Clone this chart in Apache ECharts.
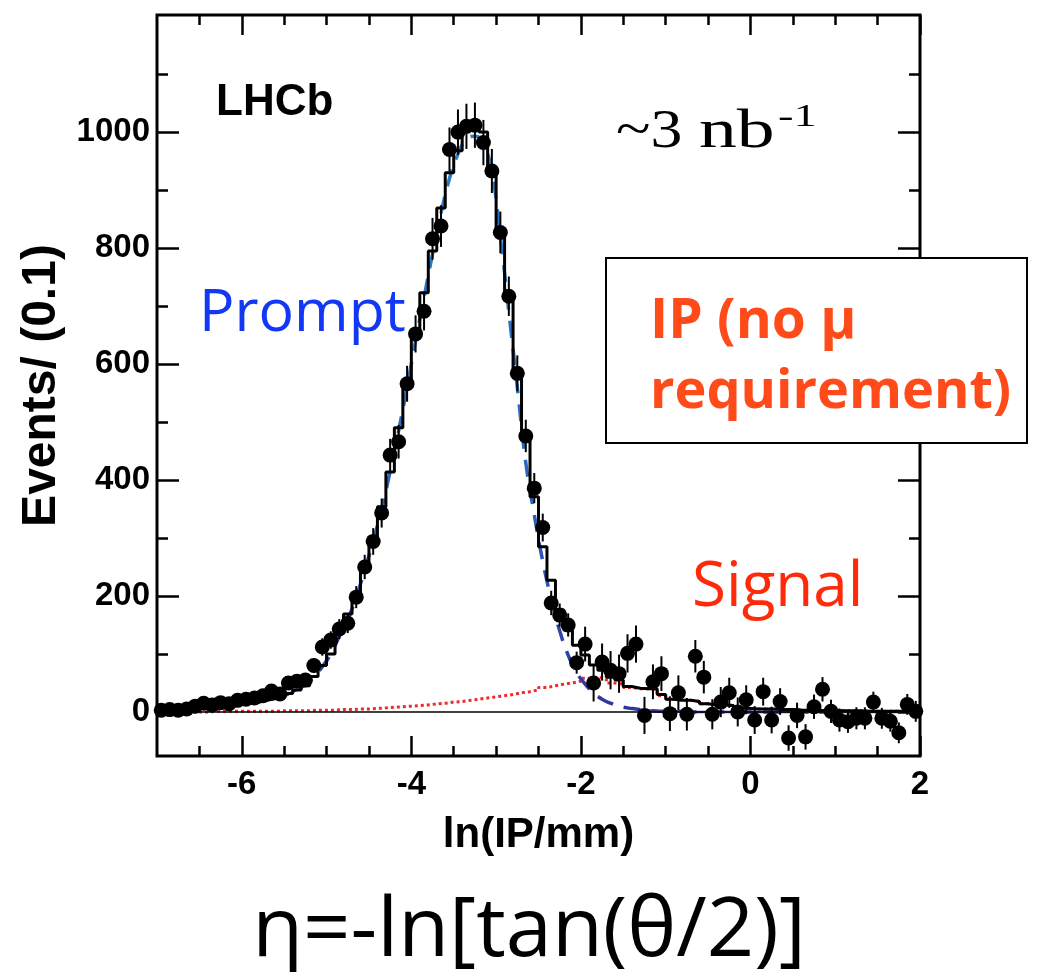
<!DOCTYPE html>
<html>
<head>
<meta charset="utf-8">
<script src="https://cdn.jsdelivr.net/npm/echarts@6/dist/echarts.min.js"></script>
<style>
html,body{margin:0;padding:0;background:#fff;}
#chart{width:1050px;height:972px;}
</style>
</head>
<body>
<div id="chart"></div>
<script>
// ---- data ----
const binWidth = 0.1;
const binCenters = [
 -6.95,-6.85,-6.75,-6.65,-6.55,-6.45,-6.35,-6.25,-6.15,-6.05,
 -5.95,-5.85,-5.75,-5.65,-5.55,-5.45,-5.35,-5.25,-5.15,-5.05,
 -4.95,-4.85,-4.75,-4.65,-4.55,-4.45,-4.35,-4.25,-4.15,-4.05,
 -3.95,-3.85,-3.75,-3.65,-3.55,-3.45,-3.35,-3.25,-3.15,-3.05,
 -2.95,-2.85,-2.75,-2.65,-2.55,-2.45,-2.35,-2.25,-2.15,-2.05,
 -1.95,-1.85,-1.75,-1.65,-1.55,-1.45,-1.35,-1.25,-1.15,-1.05,
 -0.95,-0.85,-0.75,-0.65,-0.55,-0.45,-0.35,-0.25,-0.15,-0.05,
 0.05,0.15,0.25,0.35,0.45,0.55,0.65,0.75,0.85,0.95,
 1.05,1.15,1.25,1.35,1.45,1.55,1.65,1.75,1.85,1.95
];
const dataCounts = [
 3,4,3,5,10,15,12,16,14,20,
 22,24,28,36,31,50,53,55,80,112,
 124,143,153,198,250,294,343,443,466,566,
 652,691,816,838,970,1000,1010,1012,982,933,
 827,717,584,476,386,318,188,167,150,85,
 117,50,86,72,66,101,117,-6,52,66,
 -3,33,-4,96,60,-4,17,33,0,21,
 -14,35,-14,18,-45,-6,-43,9,39,1,
 -14,-17,-11,-11,17,-11,-16,-36,13,1
];
const dataErrors = [
 3,3,3,4,5,5,5,6,6,7,
 7,8,8,9,9,10,11,11,13,15,
 15,17,17,19,21,23,25,28,29,31,
 32,33,36,36,38,39,39,39,39,38,
 36,34,31,28,26,24,21,20,20,19,
 30,32,32,33,33,33,32,32,30,30,
 30,30,28,28,28,26,26,26,25,25,
 24,24,23,23,22,22,22,21,21,20,
 20,19,19,19,18,18,18,18,18,18
];
const totalFit = [
 2,3,4,5,6,7,8,10,11,13,
 15,17,20,23,27,32,38,45,61,80,
 100,140,169,204,256,302,354,414,490,559,
 645,723,795,869,930,968,1005,1012,1000,940,
 829,722,590,475,371,285,227,176,141,115,
 98,81,72,60,55,44,41,40,40,30,
 22,20,20,18,14,12,12,11,7,6,
 5,5,5,4,4,3,3,3,2,2,
 2,2,2,1,1,1,1,1,1,1
];
const promptFit = [
 3,3,4,5,6,7,7,9,10,12,
 14,16,19,22,26,31,38,47,60,78,
 100,130,160,198,245,295,350,415,485,560,
 640,715,790,860,920,962,988,993,980,930,
 820,690,560,430,340,260,195,140,98,68,
 48,33,22,15,10,7,5,3,2,1,
 1,1,0,0,0,0,0,0,0,0,
 0,0,0,0,0,0,0,0,0,0,
 0,0,0,0,0,0,0,0,0,0
];
const signalFit = [
 0,0,0,0,0,0,1,1,1,1,
 1,1,1,1,2,2,2,2,3,3,
 3,4,4,5,5,6,7,8,9,10,
 11,12,14,15,17,18,20,22,24,26,
 28,30,33,35,38,42,45,48,50,53,
 58,60,57,50,48,42,40,40,38,28,
 22,20,20,18,14,12,12,11,7,6,
 5,5,5,4,4,3,3,3,2,2,
 2,2,2,1,1,1,1,1,1,1
];
const xMajorTicks = [-6,-4,-2,0,2];
const xMinorTicks = [-6.5,-5.5,-5,-4.5,-3.5,-3,-2.5,-1.5,-1,-0.5,0.5,1,1.5];
const yMajorTicks = [0,200,400,600,800,1000];
const yMinorTicks = [100,300,500,700,900,1100];

// ---- build ----
function stepData(vals){
  const out = binCenters.map((c,i)=>[c - binWidth/2, vals[i]]);
  out.push([binCenters[binCenters.length-1] + binWidth/2, vals[vals.length-1]]);
  return out;
}
const pointData = binCenters.map((c,i)=>[c, dataCounts[i], dataErrors[i]]);
const promptData = binCenters.map((c,i)=>[c, promptFit[i]]);
const promptLeft = promptData.filter(d=>d[0] <= -5.3);
const promptRight = promptData.filter(d=>d[0] >= -1.3);

const chart = echarts.init(document.getElementById('chart'), null, {renderer:'canvas'});
const XMIN=-7, XMAX=2, YMIN=-76, YMAX=1202;
const tickLine = {color:'#000', width:2.5};
const labelFont = {fontSize:33, fontWeight:'bold', color:'#000', fontFamily:'Liberation Sans'};
function xAx(pos, custom, len, labels){
  return {type:'value', min:XMIN, max:XMAX, position:pos,
    axisLine:{show:false, onZero:false}, splitLine:{show:false},
    axisTick:{show:true, inside:true, length:len, customValues:custom, lineStyle:tickLine},
    axisLabel: labels ? Object.assign({show:true, customValues:xMajorTicks, margin:12, formatter:v=>String(v)}, labelFont) : {show:false}
  };
}
function yAx(pos, custom, len, labels){
  return {type:'value', min:YMIN, max:YMAX, position:pos,
    axisLine:{show:false, onZero:false}, splitLine:{show:false},
    axisTick:{show:true, inside:true, length:len, customValues:custom, lineStyle:tickLine},
    axisLabel: labels ? Object.assign({show:true, customValues:yMajorTicks, margin:7, formatter:v=>String(v)}, labelFont) : {show:false}
  };
}
const xAxes = [xAx('bottom', xMajorTicks, 20, true), xAx('bottom', xMinorTicks, 10, false), xAx('top', xMajorTicks, 20, false), xAx('top', xMinorTicks, 10, false)];
xAxes[0].name = 'ln(IP/mm)';
xAxes[0].nameLocation = 'middle';
xAxes[0].nameGap = 58;
xAxes[0].nameTextStyle = {fontSize:42, fontWeight:'bold', color:'#000', fontFamily:'Liberation Sans'};
const yAxes = [yAx('left', yMajorTicks, 22, true), yAx('left', yMinorTicks, 11, false), yAx('right', yMajorTicks, 22, false), yAx('right', yMinorTicks, 11, false)];
yAxes[0].name = 'Events/ (0.1)';
yAxes[0].nameLocation = 'middle';
yAxes[0].nameGap = 80;
yAxes[0].nameTextStyle = {fontSize:48, fontWeight:'bold', color:'#000', fontFamily:'Liberation Sans'};

const promptGrad = new echarts.graphic.LinearGradient(0,0,0,1,[
  {offset:0, color:'#2a80c8'},{offset:0.55,color:'#2a6cc0'},{offset:1, color:'#30359a'}]);

const option = {
  animation:false,
  backgroundColor:'#fff',
  grid:{left:157, top:15, width:763, height:741, show:true, borderColor:'#000', borderWidth:3, backgroundColor:'rgba(0,0,0,0)'},
  xAxis: xAxes,
  yAxis: yAxes,
  series:[
    {type:'line', name:'signal', data:stepData(signalFit), step:'end', showSymbol:false, symbol:'none',
     lineStyle:{color:'#ee2b2b', width:3, type:[3,3]}, z:2},
    {type:'line', name:'prompt', data:promptData, smooth:true, showSymbol:false, symbol:'none',
     lineStyle:{color:promptGrad, width:3.5, type:[17,11]}, z:3},
    {type:'line', name:'promptL', data:promptLeft, smooth:true, showSymbol:false, symbol:'none',
     lineStyle:{color:'#3a3d9e', width:2.5}, z:3},
    {type:'line', name:'promptR', data:promptRight, smooth:true, showSymbol:false, symbol:'none',
     lineStyle:{color:'#3a3d9e', width:2.5}, z:3},
    {type:'line', name:'total', data:stepData(totalFit), step:'end', showSymbol:false, symbol:'none',
     lineStyle:{color:'#000', width:3}, z:4,
     markLine:{silent:true, symbol:'none', label:{show:false}, lineStyle:{color:'#000', width:1.5, type:'solid'}, data:[{yAxis:0}]}},
    {type:'custom', name:'err', data:pointData, z:5,
     renderItem:function(params, api){
       const x=api.value(0), y=api.value(1), e=api.value(2);
       const a=api.coord([x,y+e]), b=api.coord([x,y-e]);
       return {type:'line', shape:{x1:a[0],y1:a[1],x2:b[0],y2:b[1]}, style:{stroke:'#000', lineWidth:2}};
     }},
    {type:'scatter', name:'data', data:pointData.map(d=>[d[0],d[1]]), symbol:'circle', symbolSize:15,
     itemStyle:{color:'#000', opacity:1}, z:6}
  ],
  graphic:[
    {type:'text', x:216, y:103, style:{text:'LHCb', font:'bold 44px "Liberation Sans"', fill:'#000', verticalAlign:'middle'}},
    {type:'text', x:616, y:133, scaleX:1.18, style:{text:'~3', font:'54px "Liberation Serif"', fill:'#000', verticalAlign:'middle'}},
    {type:'text', x:699, y:133, scaleX:1.4, style:{text:'nb', font:'54px "Liberation Serif"', fill:'#000', verticalAlign:'middle'}},
    {type:'text', x:778, y:118, scaleX:1.5, style:{text:'-1', font:'31px "Liberation Serif"', fill:'#000', verticalAlign:'middle'}},
    {type:'text', x:199, y:314, style:{text:'Prompt', font:'59px "Open Sans"', fill:'#1238f5', verticalAlign:'middle'}},
    {type:'text', x:692, y:588, style:{text:'Signal', font:'62px "Open Sans"', fill:'#ff2a0a', verticalAlign:'middle'}},
    {type:'rect', shape:{x:606, y:258, width:421, height:185}, style:{fill:'#fff', stroke:'#000', lineWidth:2}, z:10},
    {type:'text', x:650, y:322, z:11, style:{text:'IP (no μ', font:'bold 55px "Open Sans"', fill:'#ff4a1a', verticalAlign:'middle'}},
    {type:'text', x:650, y:393, z:11, style:{text:'requirement)', font:'bold 54px "Open Sans"', fill:'#ff4a1a', verticalAlign:'middle'}},
    {type:'text', x:529, y:932, style:{text:'η=-ln[tan(θ/2)]', font:'83px "Open Sans"', fill:'#000', align:'center', verticalAlign:'middle'}}
  ]
};
chart.setOption(option);
</script>
</body>
</html>
